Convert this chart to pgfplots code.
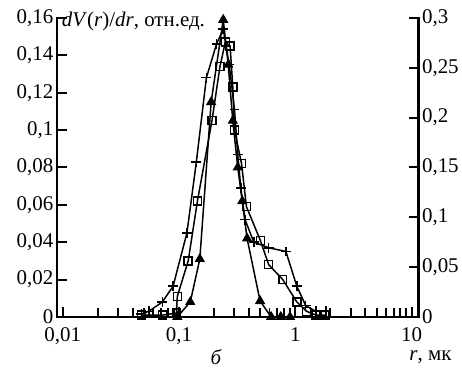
\documentclass[border=0pt]{standalone}
\usepackage{pgfplots}
\pgfplotsset{compat=1.18}
\usepackage{fontspec}
\setmainfont{Liberation Serif}
\begin{document}
\begin{tikzpicture}[font=\fontsize{21}{24}\selectfont]
\path (-57pt,-52pt) rectangle (405pt,318pt);
\begin{axis}[
  at={(0,0)}, anchor=south west,
  scale only axis, width=363pt, height=300pt,
  xmode=log, xmin=0.00889, xmax=11.48,
  ymin=0, ymax=0.16,
  axis line style={draw=none},
  xtick pos=bottom, ytick pos=left,
  tick align=inside,
  tick style={black, line width=2pt},
  major tick length=10pt, minor tick length=9pt,
  xtick={0.01,0.1,1,10}, xticklabels={{0,01},{0,1},1,10},
  minor xtick={0.02,0.03,0.04,0.05,0.06,0.07,0.08,0.09,0.2,0.3,0.4,0.5,0.6,0.7,0.8,0.9,2,3,4,5,6,7,8,9},
  ytick={0,0.02,0.04,0.06,0.08,0.1,0.12,0.14,0.16},
  yticklabel style={/pgf/number format/.cd, fixed, use comma, precision=2, assume math mode=true},
  xticklabel shift=7pt,
  clip=false,
]
\draw[line width=2.6pt, line cap=rect] (rel axis cs:0,1) -- (rel axis cs:0,0) -- (rel axis cs:1,0);
\addplot[ycomb, black, line width=2pt, mark=none, forget plot] coordinates {
(0.02,0.005) (0.03,0.005) (0.04,0.005) (0.05,0.005) (0.06,0.005) (0.07,0.005) (0.08,0.005) (0.09,0.005)
(0.1,0.005) (0.2,0.005) (0.3,0.005) (0.4,0.005) (0.5,0.005) (0.6,0.005) (0.7,0.005) (0.8,0.005) (0.9,0.005)
(1,0.005) (2,0.005) (3,0.005) (4,0.005) (5,0.005) (6,0.005) (7,0.005) (8,0.005) (9,0.005) (10,0.005)};
\addplot[black, line width=1.5pt, mark=+, mark size=5pt, mark options={line width=1.5pt}] coordinates {
(0.0475,0.0016) (0.055,0.003) (0.072,0.008) (0.089,0.0165) (0.117,0.045) (0.141,0.083)
(0.172,0.128) (0.21,0.146) (0.24,0.154) (0.27,0.135) (0.30,0.111) (0.32,0.087)
(0.34,0.069) (0.37,0.052) (0.44,0.040) (0.59,0.037) (0.83,0.035) (1.03,0.0165)
(1.23,0.006) (1.5,0.003) (1.83,0.003)};
\addplot[black, line width=1.5pt, mark=square, mark size=4pt, mark options={line width=1.5pt, fill=white}] coordinates {
(0.0475,0.001) (0.072,0.001) (0.095,0.002) (0.0967,0.011) (0.12,0.030) (0.144,0.062)
(0.192,0.105) (0.225,0.134) (0.25,0.147) (0.275,0.145) (0.29,0.123) (0.30,0.100)
(0.345,0.082) (0.38,0.059) (0.50,0.041) (0.59,0.028) (0.78,0.020) (1.03,0.008)
(1.25,0.003) (1.5,0.001) (1.8,0.001)};
\addplot[black, line width=1.5pt, mark=triangle*, mark size=5pt, mark options={line width=1pt, fill=black}] coordinates {
(0.0967,0.0) (0.125,0.008) (0.151,0.031) (0.189,0.115) (0.24,0.159) (0.265,0.135)
(0.29,0.105) (0.32,0.080) (0.35,0.062) (0.385,0.042) (0.498,0.0085) (0.62,0.0)
(0.75,0.0) (0.9,0.0)};
\node[anchor=north west, inner sep=0pt] at ([xshift=5pt,yshift=6pt]rel axis cs:0,1) {\textit{dV}(\textit{r})/\textit{dr}, отн.ед.};
\end{axis}
\begin{axis}[
  at={(0,0)}, anchor=south west,
  scale only axis, width=363pt, height=300pt,
  xmode=log, xmin=0.00889, xmax=11.48,
  ymin=0, ymax=0.3,
  axis line style={draw=none},
  xtick=\empty, ytick pos=right,
  tick align=inside,
  tick style={black, line width=2pt},
  major tick length=10pt,
  ytick={0,0.05,0.1,0.15,0.2,0.25,0.3},
  yticklabel style={/pgf/number format/.cd, fixed, use comma, precision=2, assume math mode=true},
  clip=false,
]
\draw[line width=2.6pt, line cap=rect] (rel axis cs:1,0) -- (rel axis cs:1,1);
\addplot[draw=none] coordinates {(1,0)};
\end{axis}
\node at (160pt,-40pt) {\textit{б}};
\node at (375pt,-40pt) {\textit{r}, мк};
\end{tikzpicture}
\end{document}
